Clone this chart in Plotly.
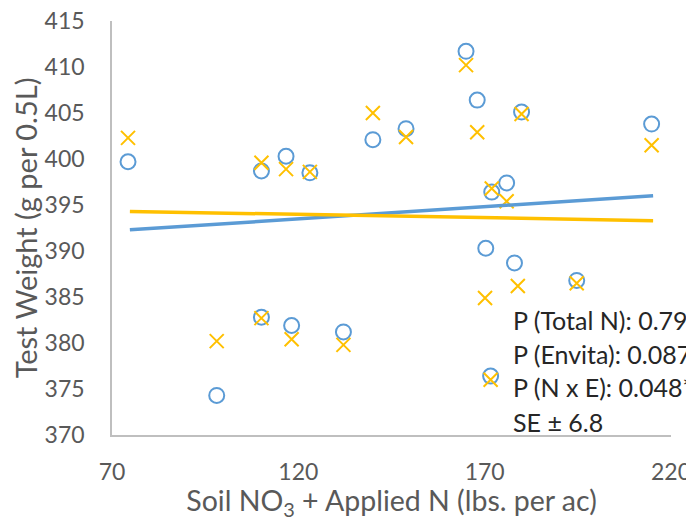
import plotly.graph_objects as go

# Data
x_circle = [74.3, 98.1, 110.1, 110.1, 116.7, 118.2, 123.1, 132.1, 140.0, 148.9,
            165.0, 168.0, 170.3, 171.6, 171.9, 175.9, 178.0, 179.9, 194.7, 214.8]
y_circle = [399.7, 374.3, 398.7, 382.8, 400.3, 381.9, 398.5, 381.2, 402.1, 403.3,
            411.7, 406.4, 390.3, 376.4, 396.4, 397.4, 388.7, 405.1, 386.8, 403.8]

x_cross = [74.3, 98.1, 110.1, 110.1, 116.7, 118.2, 123.1, 132.1, 140.0, 148.9,
           165.0, 168.0, 170.1, 171.6, 171.9, 175.9, 178.9, 179.9, 194.7, 214.8]
y_cross = [402.3, 380.2, 399.6, 382.7, 398.9, 380.4, 398.6, 379.8, 405.0, 402.4,
           410.2, 402.9, 384.9, 376.0, 396.8, 395.4, 386.2, 404.9, 386.5, 401.5]

trend_x = [74.8, 215.2]
trend_circle = [392.3, 396.0]
trend_cross = [394.3, 393.3]

stats_lines = ["P (Total N): 0.790", "P (Envita): 0.087", "P (N x E): 0.048*", "SE ± 6.8"]

BLUE = "#5b9bd5"
GOLD = "#ffc000"
GRAY = "#595959"
FONT = "Lato"

fig = go.Figure()
fig.add_trace(go.Scatter(x=x_circle, y=y_circle, mode="markers",
                         marker=dict(symbol="circle-open", size=15, color=BLUE,
                                     line=dict(width=2, color=BLUE)),
                         showlegend=False))
fig.add_trace(go.Scatter(x=x_cross, y=y_cross, mode="markers",
                         marker=dict(symbol="x-thin-open", size=14, color=GOLD,
                                     line=dict(width=2, color=GOLD)),
                         showlegend=False))
fig.add_trace(go.Scatter(x=trend_x, y=trend_circle, mode="lines",
                         line=dict(color=BLUE, width=3.5), showlegend=False))
fig.add_trace(go.Scatter(x=trend_x, y=trend_cross, mode="lines",
                         line=dict(color=GOLD, width=3.5), showlegend=False))

line_y = [0.278, 0.196, 0.116, 0.031]
for txt, yy in zip(stats_lines, line_y):
    fig.add_annotation(text=txt, xref="paper", yref="paper", x=0.713, y=yy,
                       xanchor="left", yanchor="middle", showarrow=False,
                       font=dict(family=FONT, size=25, color="#262626"))

# page body has an 8px default margin, so the figure is sized to fit the window
fig.update_layout(
    width=686, height=513,
    margin=dict(l=104, r=23, t=13, b=86),
    paper_bgcolor="white", plot_bgcolor="white",
    font=dict(family=FONT, size=23, color=GRAY),
    xaxis=dict(range=[70, 220], tickvals=[70, 120, 170, 220], showgrid=False,
               zeroline=False, showline=True, linecolor="#bfbfbf", linewidth=1.5,
               ticks="", ticklabelstandoff=16, automargin=False,
               ticklabeloverflow="allow", tickfont=dict(size=23),
               title=dict(text="Soil NO<sub>3</sub> + Applied N (lbs. per ac)",
                          standoff=20, font=dict(size=28.5, color=GRAY))),
    yaxis=dict(range=[370, 415], dtick=5, showgrid=False, zeroline=False,
               showline=True, linecolor="#bfbfbf", linewidth=1.5,
               ticks="", ticklabelstandoff=21, automargin=False,
               ticklabeloverflow="allow", tickfont=dict(size=23),
               title=dict(text="Test Weight (g per 0.5L)", standoff=3,
                          font=dict(size=29, color=GRAY))),
)

fig.write_html("out.html")
